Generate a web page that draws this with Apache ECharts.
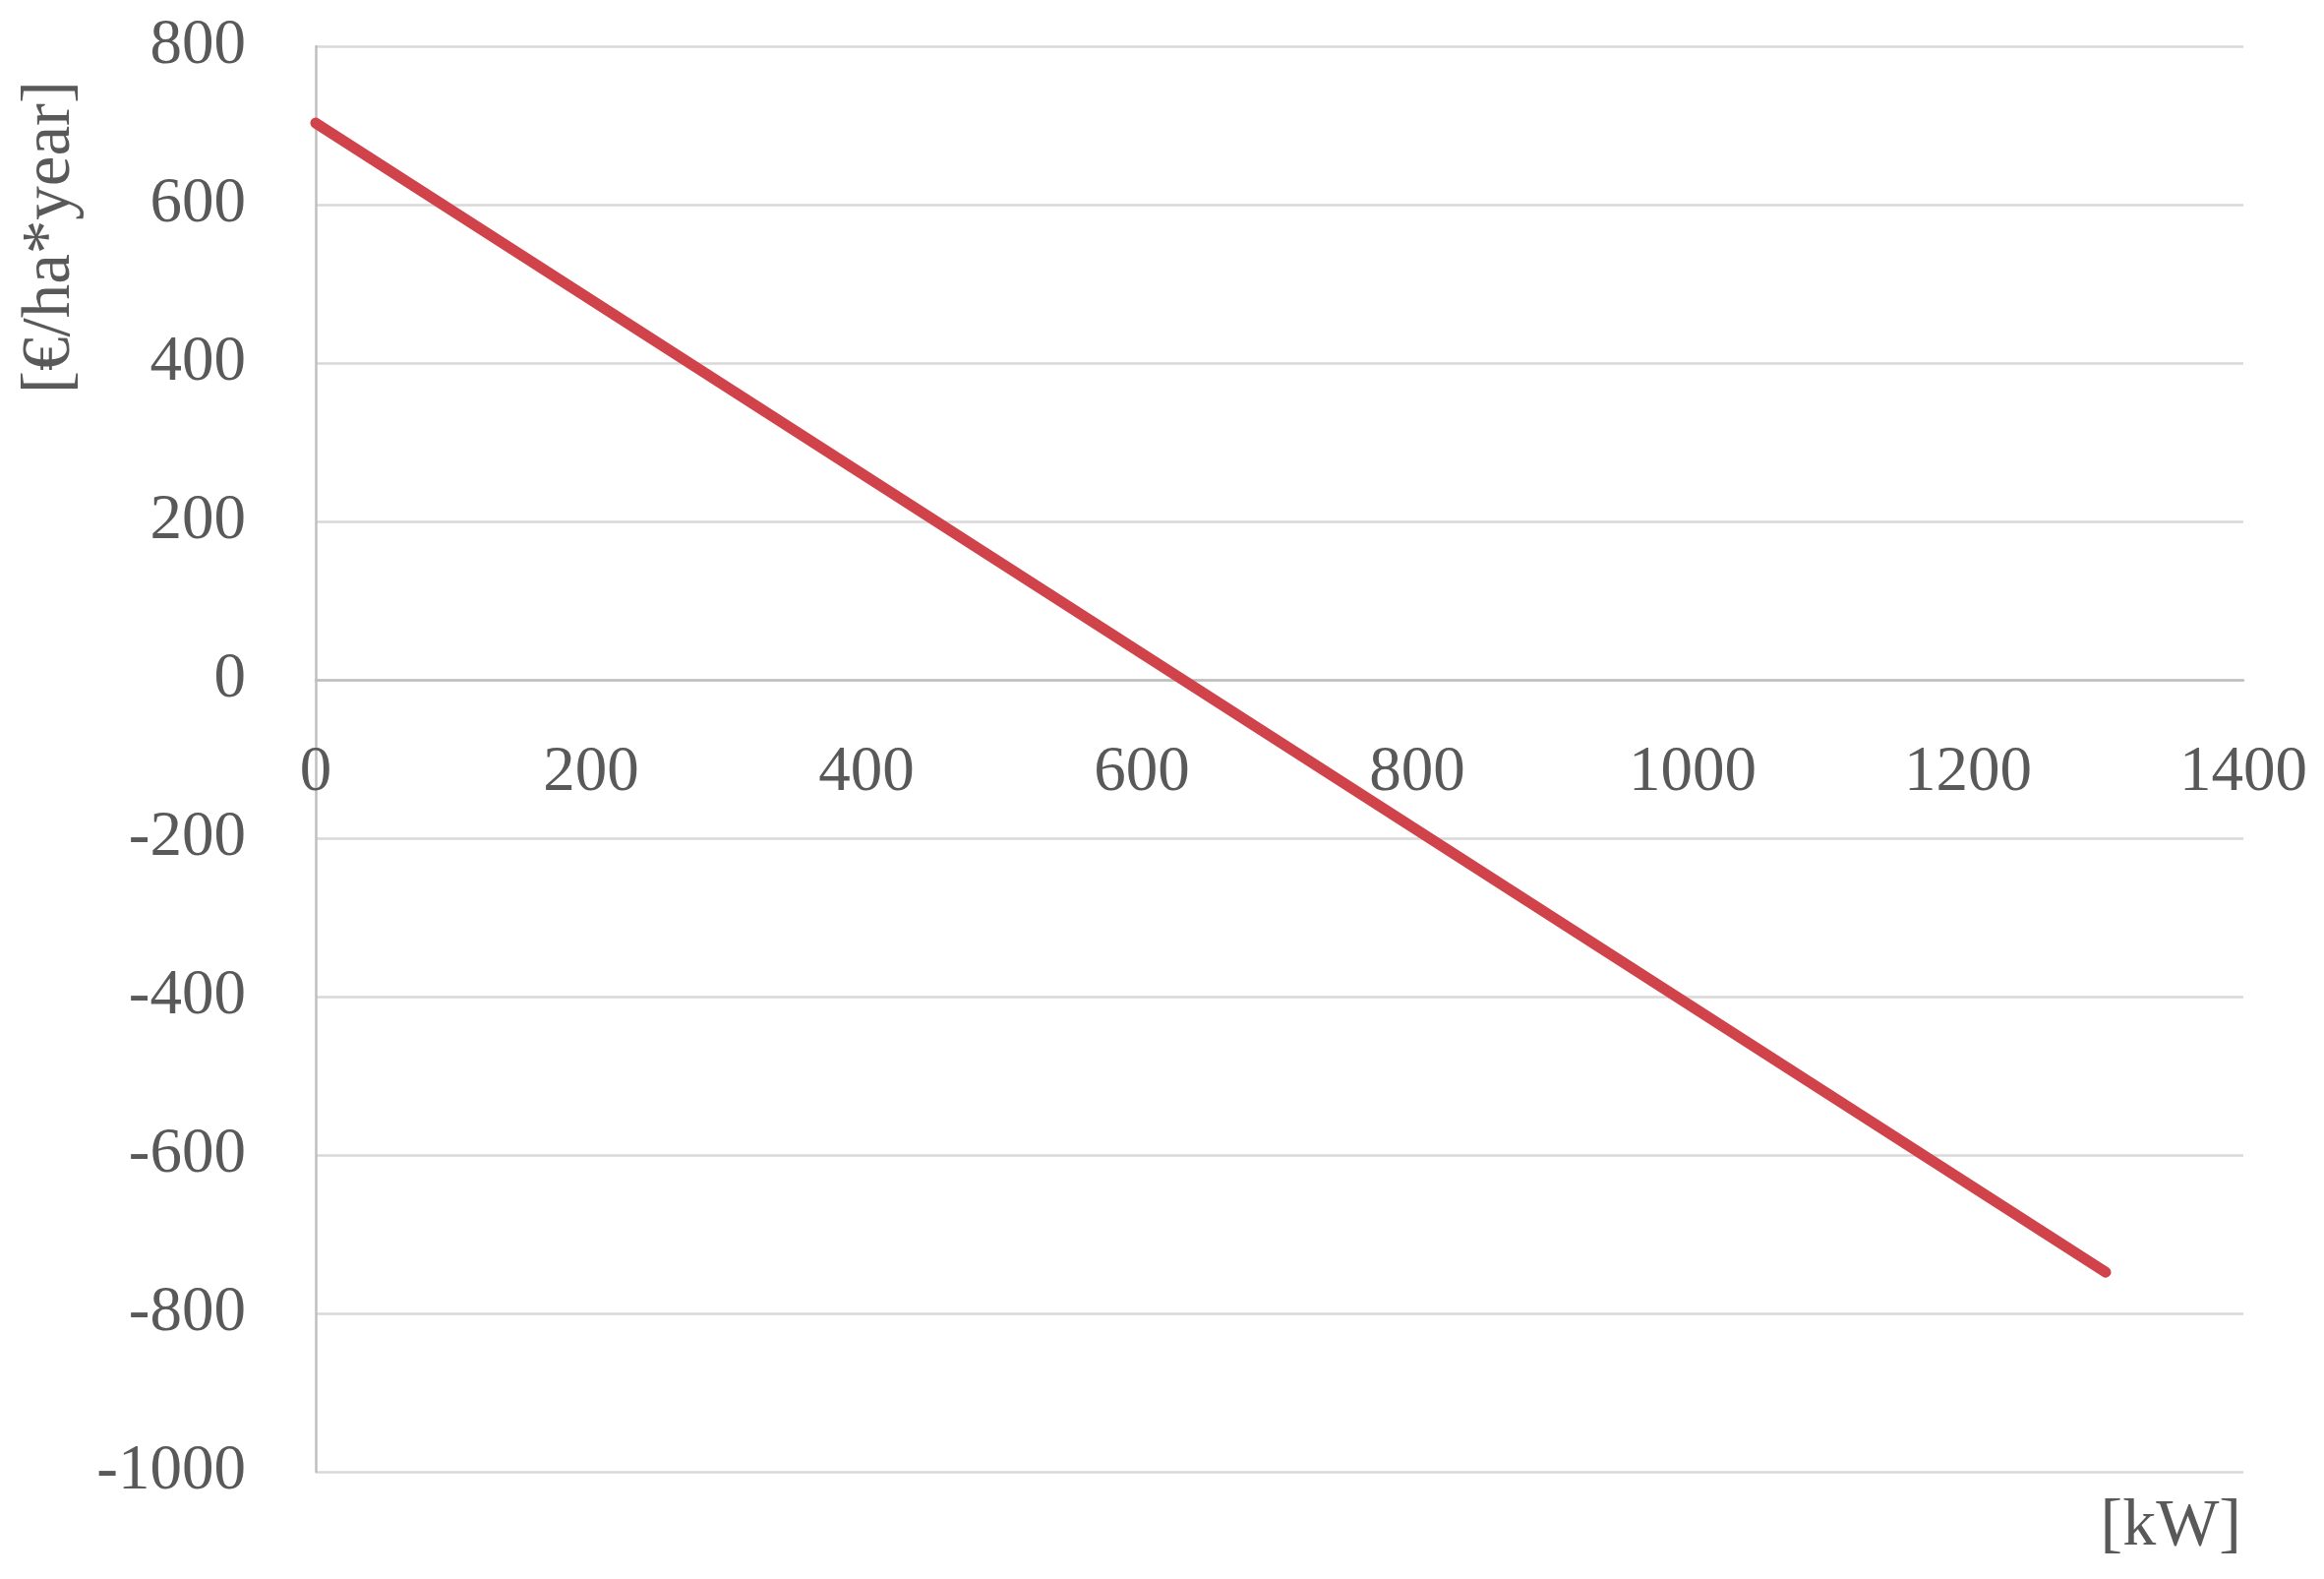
<!DOCTYPE html>
<html>
<head>
<meta charset="utf-8">
<script src="https://cdn.jsdelivr.net/npm/echarts@6/dist/echarts.min.js"></script>
<style>
html,body{margin:0;padding:0;background:#fff;}
#chart{width:2363px;height:1605px;}
</style>
</head>
<body>
<div id="chart"></div>
<script>
// Data
const powerKW = [0, 1300];
const valueEurHaYear = [703, -748];
const xTicks = [0, 200, 400, 600, 800, 1000, 1200, 1400];
const yTicks = [-1000, -800, -600, -400, -200, 0, 200, 400, 600, 800];
const yAxisTitle = '[€/ha*year]';
const xAxisTitle = '[kW]';

const FONT = '"Liberation Serif", "DejaVu Serif", serif';
const TEXT = '#595959';

const W = 2363, H = 1605;
const gridBox = {left: 321, right: 82, top: 47, bottom: 109};
const yMin = yTicks[0], yMax = yTicks[yTicks.length - 1];
const plotH = H - gridBox.top - gridBox.bottom;
// move the x axis from the bottom edge up to the y = 0 line
const xAxisOffset = -plotH * (0 - yMin) / (yMax - yMin);

const chart = echarts.init(document.getElementById('chart'), null, {renderer: 'canvas'});
chart.setOption({
  backgroundColor: '#ffffff',
  animation: false,
  grid: Object.assign({containLabel: false}, gridBox),
  xAxis: {
    type: 'value',
    position: 'bottom',
    offset: xAxisOffset,
    min: xTicks[0], max: xTicks[xTicks.length - 1], interval: xTicks[1] - xTicks[0],
    axisLine: {show: true, onZero: false, lineStyle: {color: '#bfbfbf', width: 2.5}},
    axisTick: {show: false},
    splitLine: {show: false},
    axisLabel: {color: TEXT, fontFamily: FONT, fontSize: 65, margin: 62,
      formatter: v => String(v)}
  },
  yAxis: {
    type: 'value',
    min: yMin, max: yMax, interval: yTicks[1] - yTicks[0],
    axisLine: {show: true, onZero: false, lineStyle: {color: '#bfbfbf', width: 2.5}},
    axisTick: {show: false},
    splitLine: {show: true, lineStyle: {color: '#d9d9d9', width: 2.5}},
    axisLabel: {color: TEXT, fontFamily: FONT, fontSize: 65, margin: 71,
      formatter: v => String(v)}
  },
  graphic: [
    {
      type: 'text', x: 52, y: 241, rotation: Math.PI / 2,
      style: {text: yAxisTitle, fill: TEXT, font: '69px ' + FONT, align: 'center', verticalAlign: 'middle'}
    },
    {
      type: 'text', x: 2279, y: 1552,
      style: {text: xAxisTitle, fill: TEXT, font: '68px ' + FONT, align: 'right', verticalAlign: 'middle'}
    }
  ],
  series: [{
    type: 'line',
    data: powerKW.map((x, i) => [x, valueEurHaYear[i]]),
    showSymbol: false,
    lineStyle: {color: '#d0434a', width: 11, cap: 'round'},
    z: 5
  }]
});
</script>
</body>
</html>
